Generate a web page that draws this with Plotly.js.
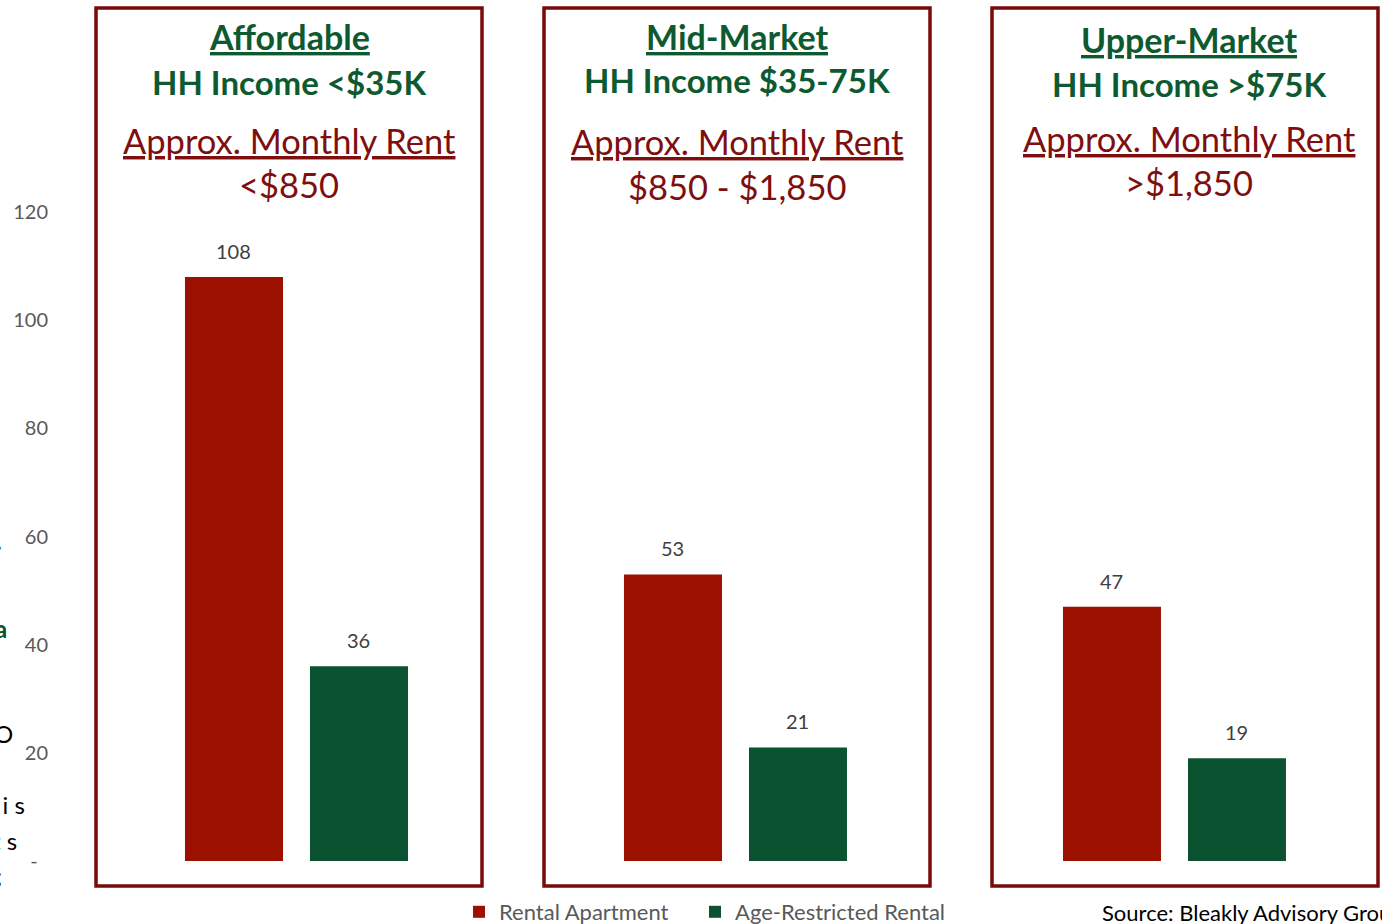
<!DOCTYPE html>
<html>
<head>
<meta charset="utf-8">
<script src="https://cdn.plot.ly/plotly-3.0.1.min.js"></script>
<style>html,body{margin:0;padding:0;background:#fff;}#chart{width:1382px;height:924px;}</style>
</head>
<body>
<div id="chart"></div>
<script>
// ---- data ----
var categories = ["Affordable", "Mid-Market", "Upper-Market"];
var rentalApartment = [108, 53, 47];
var ageRestricted = [36, 21, 19];
var seriesNames = ["Rental Apartment", "Age-Restricted Rental"];
var tickValues = [0, 20, 40, 60, 80, 100, 120];
var tickLabels = ["-\u00a0\u00a0", "20", "40", "60", "80", "100", "120"];
var segmentTitles = ["Affordable", "Mid-Market", "Upper-Market"];
var incomeLabels = ["HH Income <$35K", "HH Income $35-75K", "HH Income >$75K"];
var rentLabels = ["<$850", "$850 - $1,850", ">$1,850"];
var sourceText = "Source: Bleakly Advisory Group";

// ---- layout helpers (pixel -> paper) ----
var W = 1382, H = 924, ML = 60, MR = 0, MT = 10, MB = 63;
var PW = W - ML - MR, PH = H - MT - MB;
function px(x) { return (x - ML) / PW; }
function py(y) { return (H - MB - y) / PH; }

var RED = "#9C1000", GREEN = "#0B5230", BOX = "#7A0A0A", HEADRED = "#7F0E0E", HEADGREEN = "#0E5A30";
var FONT = "Lato, 'Open Sans', sans-serif";
var BARGAP = 0.4305, GROUPGAP = 0.216;
var slotOffset = (1 - BARGAP) / 4; // centre of each bar relative to its category

var traces = [
  { type: "bar", x: categories, y: rentalApartment, name: seriesNames[0], legend: "legend",
    marker: { color: RED }, hoverinfo: "skip" },
  { type: "bar", x: categories, y: ageRestricted, name: seriesNames[1], legend: "legend2",
    marker: { color: GREEN }, hoverinfo: "skip" }
];

var boxes = [[96, 482], [544, 930], [992, 1378]];
var shapes = boxes.map(function (b) {
  return { type: "rect", xref: "paper", yref: "paper", x0: px(b[0]), x1: px(b[1]), y0: py(886), y1: py(8),
    line: { color: BOX, width: 3.5 }, fillcolor: "rgba(0,0,0,0)", layer: "below" };
});

var annotations = [];
// value labels above the bars, positioned in data coordinates
[rentalApartment, ageRestricted].forEach(function (vals, s) {
  vals.forEach(function (v, i) {
    annotations.push({ xref: "x", yref: "y", x: i + (s === 0 ? -slotOffset : slotOffset), y: v,
      yshift: 26, xanchor: "center", yanchor: "middle", showarrow: false, text: String(v),
      font: { size: 20, color: "#404040", family: FONT } });
  });
});

var headerPos = [
  { cx: 289, y: [37, 82, 140, 184] },
  { cx: 737, y: [37, 80, 142, 186] },
  { cx: 1189, y: [39, 84, 139, 183] }
];
headerPos.forEach(function (h, i) {
  annotations.push({ xref: "paper", yref: "paper", x: px(h.cx), y: py(h.y[0]), xanchor: "center", yanchor: "middle",
    text: "<b><u>" + segmentTitles[i] + "</u></b>", showarrow: false, font: { size: 34, color: HEADGREEN, family: FONT } });
  annotations.push({ xref: "paper", yref: "paper", x: px(h.cx), y: py(h.y[1]), xanchor: "center", yanchor: "middle",
    text: "<b>" + incomeLabels[i] + "</b>", showarrow: false, font: { size: 33, color: HEADGREEN, family: FONT } });
  annotations.push({ xref: "paper", yref: "paper", x: px(h.cx), y: py(h.y[2]), xanchor: "center", yanchor: "middle",
    text: "<u>Approx. Monthly Rent</u>", showarrow: false, font: { size: 34.5, color: HEADRED, family: FONT } });
  annotations.push({ xref: "paper", yref: "paper", x: px(h.cx), y: py(h.y[3]), xanchor: "center", yanchor: "middle",
    text: rentLabels[i], showarrow: false, font: { size: 34.5, color: HEADRED, family: FONT } });
});
annotations.push({ xref: "paper", yref: "paper", x: px(1100), y: py(912), xanchor: "left", yanchor: "middle",
  text: sourceText, showarrow: false, font: { size: 22, color: "#000", family: FONT } });

// fragments of neighbouring text cut off at the left edge
var fragments = [
  { t: ".", y: 540, c: GREEN, b: true, x: 4 },
  { t: "a", y: 628, c: GREEN, b: true, x: 9 },
  { t: "O", y: 733, c: "#000", b: false, x: 15 },
  { t: "n i s", y: 804, c: "#000", b: false, x: 27 },
  { t: "t s", y: 840, c: "#000", b: false, x: 19 },
  { t: ";", y: 875, c: "#000", b: false, x: 4 }
];
fragments.forEach(function (f) {
  annotations.push({ xref: "paper", yref: "paper", x: px(f.x), y: py(f.y), xanchor: "right", yanchor: "middle",
    text: f.b ? "<b>" + f.t + "</b>" : f.t, showarrow: false, font: { size: 24, color: f.c, family: FONT } });
});

function legendAt(xpix) {
  return { orientation: "h", xref: "container", yref: "container", x: xpix / W, y: (H - 912) / H,
    xanchor: "left", yanchor: "middle", font: { size: 22, color: "#595959", family: FONT },
    bgcolor: "rgba(0,0,0,0)" };
}

var layout = {
  width: W, height: H,
  margin: { l: ML, r: MR, t: MT, b: MB, pad: 0 },
  paper_bgcolor: "#fff", plot_bgcolor: "rgba(0,0,0,0)",
  barmode: "group", bargap: BARGAP, bargroupgap: GROUPGAP,
  showlegend: true,
  legend: legendAt(459),
  legend2: legendAt(695),
  xaxis: { type: "category", range: [-0.5387, 2.4727], showticklabels: false, showline: false,
    showgrid: false, zeroline: false, ticks: "", fixedrange: true },
  yaxis: { range: [0, 157.36], tickvals: tickValues, ticktext: tickLabels, showgrid: false, zeroline: false,
    showline: false, ticks: "", tickfont: { size: 20, color: "#595959", family: FONT }, ticklabelstandoff: 11 },
  shapes: shapes,
  annotations: annotations
};

Plotly.newPlot("chart", traces, layout, { displayModeBar: false, staticPlot: true });
</script>
</body>
</html>
